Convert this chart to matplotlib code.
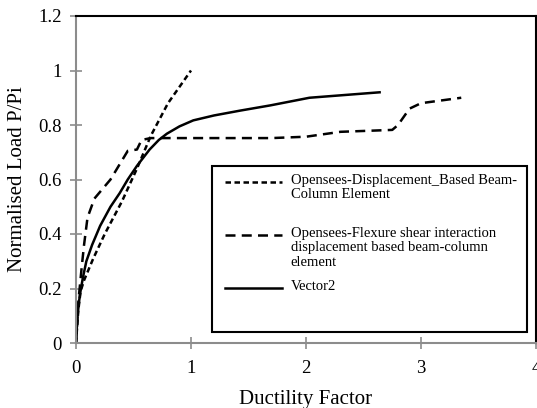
import matplotlib
matplotlib.use("Agg")
import matplotlib.pyplot as plt
from matplotlib.lines import Line2D
from matplotlib.patches import Rectangle

plt.rcParams['font.family'] = ['Liberation Serif', 'DejaVu Serif']

# Data
disp_x = [0, 0.02, 0.04, 0.07, 0.15, 0.25, 0.40, 0.53, 0.65, 0.80, 1.00]
disp_y = [0, 0.12, 0.19, 0.23, 0.31, 0.40, 0.52, 0.64, 0.76, 0.88, 1.00]

flex_x = [0, 0.02, 0.05, 0.07, 0.10, 0.16, 0.30, 0.45, 0.53, 0.57, 0.65, 1.00, 1.70,
          2.00, 2.30, 2.75, 2.80, 2.90, 3.00, 3.35]
flex_y = [0, 0.15, 0.28, 0.36, 0.46, 0.53, 0.60, 0.705, 0.71, 0.745, 0.752, 0.752, 0.752,
          0.757, 0.775, 0.782, 0.80, 0.86, 0.88, 0.90]

vec_x = [0, 0.01, 0.02, 0.035, 0.06, 0.09, 0.14, 0.21, 0.30, 0.38, 0.45, 0.53, 0.64,
         0.72, 0.79, 0.90, 1.02, 1.20, 1.43, 1.69, 2.03, 2.64]
vec_y = [0, 0.08, 0.13, 0.18, 0.24, 0.30, 0.36, 0.43, 0.50, 0.55, 0.60, 0.65, 0.71,
         0.745, 0.768, 0.795, 0.817, 0.835, 0.853, 0.872, 0.90, 0.92]

labels = ["Opensees-Displacement_Based Beam-\nColumn Element",
          "Opensees-Flexure shear interaction\ndisplacement based beam-column\nelement",
          "Vector2"]
x_ticks = [0, 1, 2, 3, 4]
y_ticks = [0, 0.2, 0.4, 0.6, 0.8, 1.0, 1.2]
y_tick_labels = ["0", "0.2", "0.4", "0.6", "0.8", "1", "1.2"]

fig = plt.figure(figsize=(5.37, 4.08), dpi=100)
ax = fig.add_axes([76/537, 65/408, 460/537, 327/408])

styles = [dict(ls=(0, (2.2, 1.4)), lw=1.8),
          dict(ls=(0, (4.0, 2.5)), lw=1.8),
          dict(ls='-', lw=1.8)]
ax.plot(disp_x, disp_y, color='black', **styles[0])
ax.plot(flex_x, flex_y, color='black', **styles[1])
ax.plot(vec_x, vec_y, color='black', **styles[2])

ax.set_xlim(0, 4)
ax.set_ylim(0, 1.2)
ax.set_xticks(x_ticks)
ax.set_xticklabels([str(t) for t in x_ticks])
ax.set_yticks(y_ticks)
ax.set_yticklabels(y_tick_labels)
ax.tick_params(direction='inout', length=9, width=1.2, color='#8c8c8c',
               labelsize=13.5)
ax.tick_params(axis='y', pad=6)
ax.tick_params(axis='x', pad=8)
for s in ['left', 'bottom']:
    ax.spines[s].set_color('#8c8c8c')
    ax.spines[s].set_linewidth(1.5)
for s in ['top', 'right']:
    ax.spines[s].set_color('black')
    ax.spines[s].set_linewidth(1.5)

ax.set_xlabel("Ductility Factor", fontsize=15, labelpad=9)
ax.set_ylabel("Normalised Load P/Pi", fontsize=15, labelpad=8)

# legend box (drawn manually)
ax.add_patch(Rectangle((0.2957, 0.0336), 0.684, 0.507, transform=ax.transAxes,
                       facecolor='white', edgecolor='black', lw=1.5, zorder=5))
ys = [0.492, 0.330, 0.168]
for lab, y, st in zip(labels, ys, styles):
    ax.add_line(Line2D([0.324, 0.448], [y, y], transform=ax.transAxes,
                       color='black', zorder=6, **st))
    ax.text(0.467, y + 0.024, lab, transform=ax.transAxes, fontsize=10.5,
            va='top', ha='left', linespacing=1.12, zorder=6)

fig.savefig("out.png", dpi=100)
